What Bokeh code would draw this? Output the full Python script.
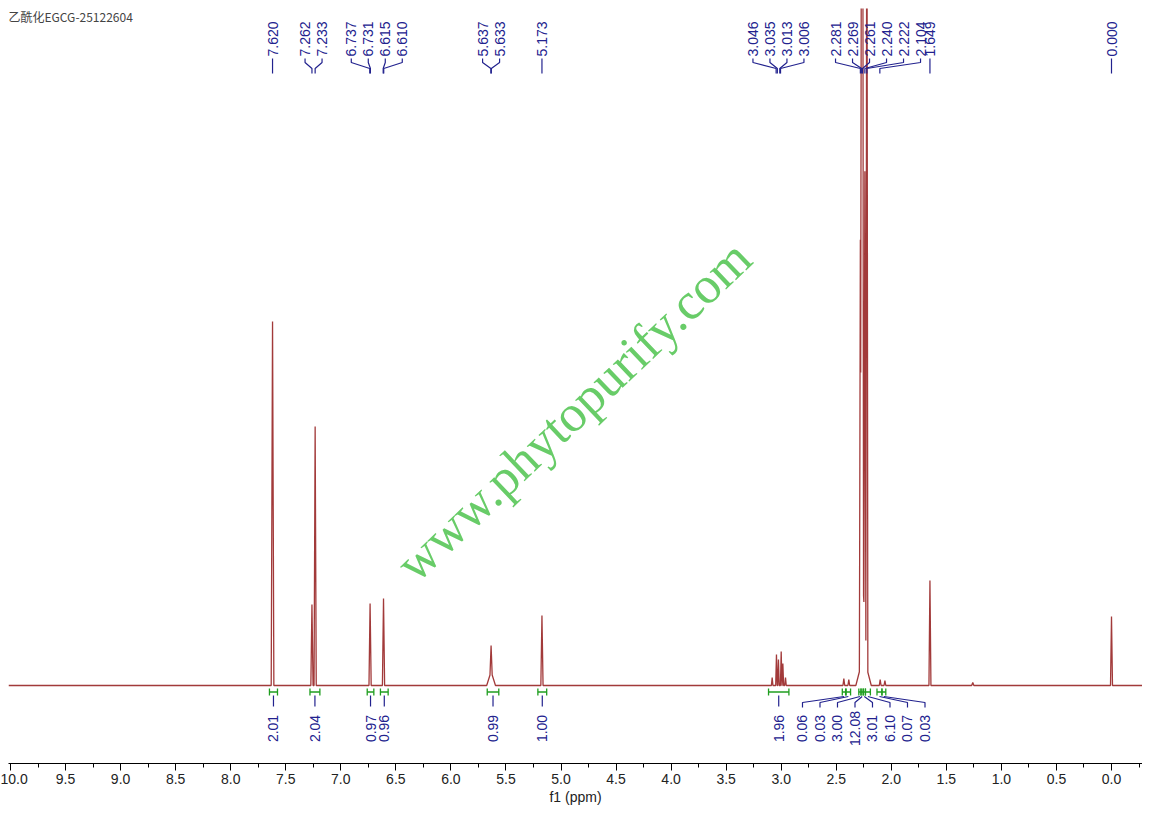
import numpy as np
from bokeh.plotting import figure
from bokeh.models import Range1d, SingleIntervalTicker, PrintfTickFormatter
from bokeh.core.properties import value
from bokeh.embed import file_html
from bokeh.resources import INLINE

# ---------------- data ----------------
title_text = "乙酰化EGCG-25122604"
watermark_text = "www.phytopurify.com"
x_label = "f1 (ppm)"

# spectrum peaks (ppm, height, half base width in ppm)
peak_ppm = [7.620, 7.262, 7.233, 6.734, 6.612, 5.635, 5.635, 5.173,
            3.082, 3.043, 3.025, 3.000, 2.985, 2.961,
            2.431, 2.386, 2.281, 2.269, 2.261, 2.240, 2.222, 2.252, 2.252,
            2.101, 2.058, 1.649, 1.260, 0.000]
peak_height = [364, 81, 259, 82, 87, 26, 14, 70,
               8, 31, 26, 34, 22, 8,
               7, 6, 418, 1100, 1000, 450, 900, 30, 60,
               6, 5, 105, 3, 69]
peak_halfwidth = [0.012, 0.010, 0.010, 0.010, 0.010, 0.010, 0.040, 0.010,
                  0.007, 0.007, 0.007, 0.007, 0.007, 0.007,
                  0.008, 0.008, 0.009, 0.009, 0.009, 0.009, 0.009, 0.070, 0.035,
                  0.008, 0.008, 0.009, 0.010, 0.009]

# peak picking labels (top)
label_ppm = [7.620, 7.262, 7.233, 6.737, 6.731, 6.615, 6.610, 5.637, 5.633, 5.173,
             3.046, 3.035, 3.013, 3.006,
             2.281, 2.269, 2.261, 2.240, 2.222, 2.104, 1.649, 0.000]
label_group = [0, 1, 1, 2, 2, 2, 2, 3, 3, 4,
               5, 5, 5, 5,
               6, 6, 6, 6, 6, 6, 7, 8]

# integrals (bottom)
int_from = [7.648, 7.280, 6.760, 6.640, 5.670, 5.210, 3.115,
            2.445, 2.410, 2.295, 2.275, 2.255, 2.235, 2.130, 2.085]
int_to = [7.575, 7.190, 6.700, 6.570, 5.565, 5.130, 2.930,
          2.415, 2.370, 2.275, 2.255, 2.235, 2.190, 2.085, 2.050]
int_value = [2.01, 2.04, 0.97, 0.96, 0.99, 1.00, 1.96,
             0.06, 0.03, 3.00, 12.08, 3.01, 6.10, 0.07, 0.03]
int_group = [0, 1, 2, 3, 4, 5, 6, 7, 7, 7, 7, 7, 7, 7, 7]

# ---------------- layout constants ----------------
PX = 110.1                 # pixels per ppm
X_START = 10 + 2 / PX      # left edge of frame
X_END = 10 - 1132 / PX     # right edge of frame
FRAME_W, FRAME_H = 1134, 755
Y_BOTTOM, Y_TOP = -78, 677  # 1 data unit = 1 px, baseline at 0

LABEL_COLOR = "#22228e"
SPEC_COLOR = "#921818"
GREEN = "#1f9e1f"

p = figure(frame_width=FRAME_W, frame_height=FRAME_H,
           x_range=Range1d(X_START, X_END), y_range=Range1d(Y_BOTTOM, Y_TOP),
           output_backend="svg", toolbar_location=None, y_axis_location=None,
           min_border=0, min_border_left=8, min_border_right=0, min_border_top=8)
p.outline_line_color = None
p.xgrid.visible = False
p.ygrid.visible = False
p.background_fill_color = "white"
p.border_fill_color = "white"

# ---------------- spectrum (sum of triangular line shapes) ----------------
c = np.array(peak_ppm); h = np.array(peak_height, float); w = np.array(peak_halfwidth)
xs = np.unique(np.concatenate([c - w, c, c + w, [X_START, X_END]]))[::-1]
ys = np.zeros_like(xs)
for ci, hi, wi in zip(c, h, w):
    ys += np.clip(hi * (1 - np.abs(xs - ci) / wi), 0, None)
p.line(xs, ys, line_color=SPEC_COLOR, line_width=1.3, line_alpha=0.85)

# ---------------- watermark ----------------
p.text(x=[10 - (573 - 10) / PX], y=[275], text=[watermark_text], angle=np.deg2rad(43.6),
       text_align="center", text_baseline="middle",
       text_font=value("Liberation Serif"), text_font_size="52px",
       text_color="#68cc68")

# ---------------- title ----------------
p.text(x=[X_START], y=[669], text=[title_text], text_align="left", text_baseline="middle",
       text_font=value("Noto Sans CJK SC"), text_font_size="12px", text_color="#444444")

# ---------------- peak labels ----------------
SPACING = 17.0
group_shift_px = {6: 12.0}
lab_x = np.zeros(len(label_ppm))
for g in sorted(set(label_group)):
    idx = [i for i, gg in enumerate(label_group) if gg == g]
    cen = np.mean([label_ppm[i] for i in idx]) - group_shift_px.get(g, 0) / PX
    n = len(idx)
    for k, i in enumerate(idx):
        lab_x[i] = cen + (((n - 1) / 2) - k) * SPACING / PX

p.text(x=list(lab_x), y=[629] * len(lab_x), text=[f"{v:.3f}" for v in label_ppm],
       angle=np.pi / 2, text_align="left", text_baseline="middle",
       text_font=value("Liberation Sans"), text_font_size="14px", text_color=LABEL_COLOR)
lx, ly = [], []
for i, v in enumerate(label_ppm):
    lx.append([lab_x[i], lab_x[i], v, v])
    ly.append([627, 623, 617, 612])
p.multi_line(lx, ly, line_color=LABEL_COLOR, line_width=1.2)

# ---------------- integrals ----------------
gx, gy = [], []
for a, b in zip(int_from, int_to):
    gx += [[a, b], [a, a], [b, b]]
    gy += [[-6.5, -6.5], [-3, -10], [-3, -10]]
p.multi_line(gx, gy, line_color=GREEN, line_width=1.3)

int_mid = [(a + b) / 2 for a, b in zip(int_from, int_to)]
int_lab_x = np.zeros(len(int_mid))
for g in sorted(set(int_group)):
    idx = [i for i, gg in enumerate(int_group) if gg == g]
    cen = np.mean([int_mid[i] for i in idx])
    n = len(idx)
    for k, i in enumerate(idx):
        int_lab_x[i] = cen + (((n - 1) / 2) - k) * 17.5 / PX

bx, by = [], []
for i, m in enumerate(int_mid):
    n_in_group = int_group.count(int_group[i])
    if n_in_group == 1:
        bx.append([m, m]); by.append([-10, -21])
    else:
        bx.append([m, int_lab_x[i], int_lab_x[i]]); by.append([-11, -17, -22])
p.multi_line(bx, by, line_color=LABEL_COLOR, line_width=1.2)

p.text(x=list(int_lab_x), y=[-43] * len(int_lab_x), text=[f"{v:.2f}" for v in int_value],
       angle=np.pi / 2, text_align="center", text_baseline="middle",
       text_font=value("Liberation Sans"), text_font_size="14px", text_color=LABEL_COLOR)

# ---------------- axis ----------------
ax = p.xaxis[0]
ax.ticker = SingleIntervalTicker(interval=0.5, num_minor_ticks=2)
ax.formatter = PrintfTickFormatter(format="%.1f")
ax.axis_line_color = "black"
ax.major_tick_out = 7
ax.major_tick_in = 0
ax.minor_tick_out = 4
ax.minor_tick_in = 0
ax.major_tick_line_color = "black"
ax.minor_tick_line_color = "black"
ax.major_label_standoff = 3
ax.major_label_text_font = "Liberation Sans"
ax.major_label_text_font_size = "14px"
ax.major_label_text_color = "#222222"
ax.axis_label = x_label
ax.axis_label_standoff = 2
ax.axis_label_text_font = "Liberation Sans"
ax.axis_label_text_font_size = "14px"
ax.axis_label_text_font_style = "normal"
ax.axis_label_text_color = "#222222"

open("out.html", "w").write(file_html(p, INLINE))
